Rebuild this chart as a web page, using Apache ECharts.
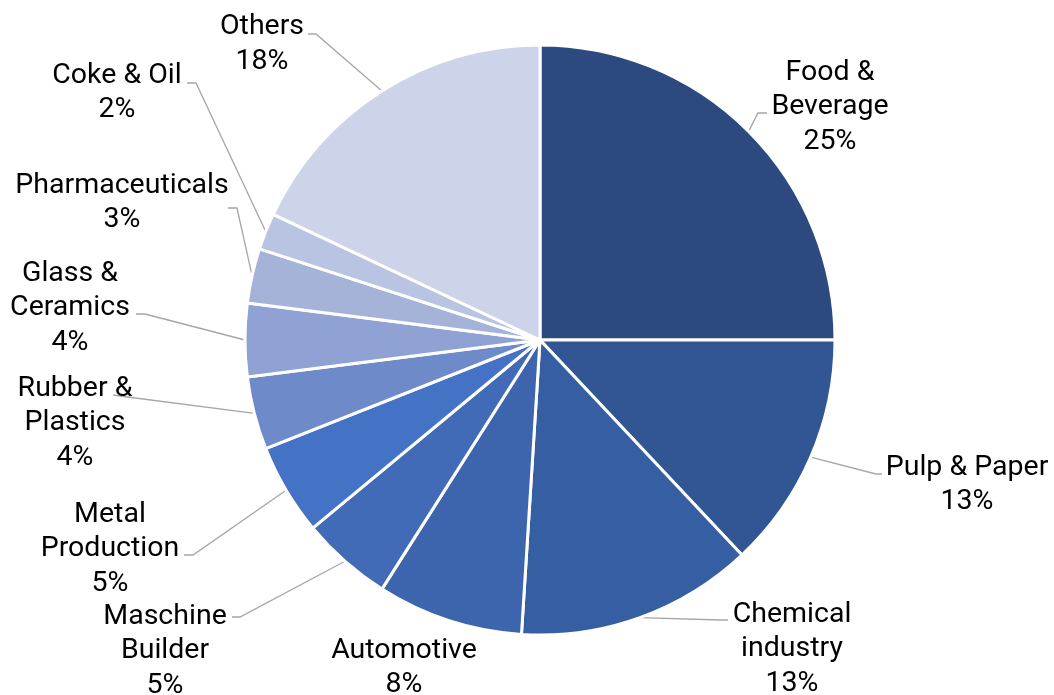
<!DOCTYPE html>
<html>
<head>
<meta charset="utf-8">
<script src="https://cdn.jsdelivr.net/npm/echarts@6/dist/echarts.min.js"></script>
<style>
  html, body { margin: 0; padding: 0; background: #fff; }
  #chart { width: 1054px; height: 695px; }
</style>
</head>
<body>
<div id="chart"></div>
<script>
// Energy demand share by industry sector (percent)
const categories = [
  'Food & Beverage', 'Pulp & Paper', 'Chemical industry', 'Automotive',
  'Maschine Builder', 'Metal Production', 'Rubber & Plastics',
  'Glass & Ceramics', 'Pharmaceuticals', 'Coke & Oil', 'Others'
];
const shares = [25, 13, 13, 8, 5, 5, 4, 4, 3, 2, 18];

// Wrapped label text for each sector
const labelNames = [
  'Food &\nBeverage', 'Pulp & Paper', 'Chemical\nindustry', 'Automotive',
  'Maschine\nBuilder', 'Metal\nProduction', 'Rubber &\nPlastics',
  'Glass &\nCeramics', 'Pharmaceuticals', 'Coke & Oil', 'Others'
];

// Sector fill colours, dark to light blue
const colors = [
  '#2C4A80', '#325594', '#365EA2', '#3C65AE', '#416BB7', '#4472C4',
  '#6F8AC9', '#8FA2D3', '#A6B3D9', '#B9C3E2', '#CDD3E8'
];

// Label placement: block centre, leader elbow and leader end (pixels)
const labelPlacement = [
  { x: 830, y: 107, elbow: [758, 113], end: [767, 113] },
  { x: 967, y: 485, elbow: [876, 474], end: [882, 474] },
  { x: 792, y: 649, elbow: [720, 620], end: [728, 620] },
  { x: 404, y: 668, elbow: null, end: null },
  { x: 165, y: 651, elbow: [240, 617], end: [232, 617] },
  { x: 110, y: 549, elbow: [193, 555], end: [184, 555] },
  { x: 75,  y: 423, elbow: [120, 396], end: [113, 395] },
  { x: 70,  y: 308, elbow: [145, 314], end: [136, 314] },
  { x: 122, y: 203, elbow: [237, 208], end: [228, 208] },
  { x: 117, y: 93,  elbow: [196, 83],  end: [187, 83] },
  { x: 262, y: 44.5, elbow: [316, 34], end: [308, 34] }
];

const chart = echarts.init(document.getElementById('chart'), null, { renderer: 'canvas' });

const seriesData = categories.map((name, i) => ({
  name: name,
  value: shares[i],
  itemStyle: { color: colors[i] },
  label: { formatter: labelNames[i] + '\n{d}%' },
  labelLine: { show: labelPlacement[i].elbow !== null }
}));

chart.setOption({
  animation: false,
  backgroundColor: '#ffffff',
  series: [{
    type: 'pie',
    center: [540, 340],
    radius: [0, 295],
    startAngle: 90,
    clockwise: true,
    percentPrecision: 0,
    avoidLabelOverlap: false,
    data: seriesData,
    itemStyle: { borderColor: '#ffffff', borderWidth: 3 },
    label: {
      show: true,
      position: 'outside',
      color: '#000000',
      fontFamily: 'Roboto',
      fontSize: 28.5,
      lineHeight: 34.5,
      align: 'center'
    },
    labelLine: {
      show: true,
      lineStyle: { color: '#A6A6A6', width: 1.3 }
    },
    labelLayout: function (params) {
      const p = labelPlacement[params.dataIndex];
      const out = { x: p.x, y: p.y, align: 'center', verticalAlign: 'middle' };
      if (p.elbow && params.labelLinePoints) {
        out.labelLinePoints = [params.labelLinePoints[0], p.elbow, p.end];
      }
      return out;
    }
  }]
});
</script>
</body>
</html>
